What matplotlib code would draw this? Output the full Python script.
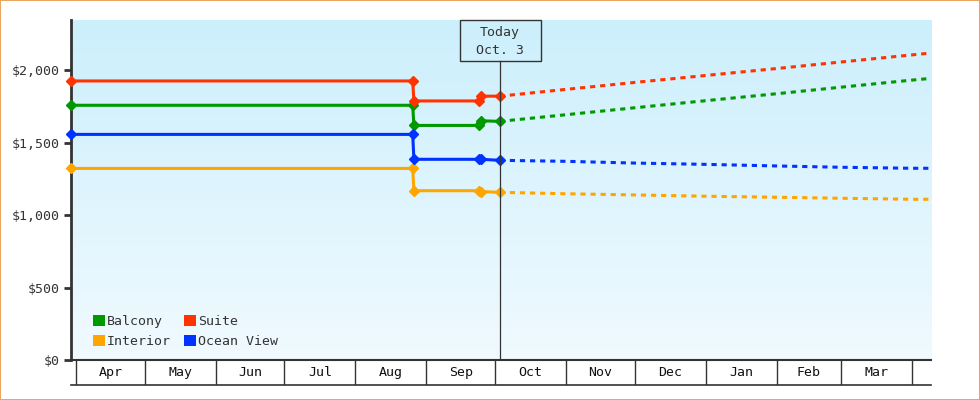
import matplotlib

matplotlib.use("Agg")
import matplotlib.pyplot as plt
import matplotlib.dates as mdates
import numpy as np
import pandas as pd
from matplotlib.patches import Rectangle, Patch
from matplotlib.ticker import FuncFormatter

# observed prices (step change late August, small moves late September)
hist_dates = ["2024-03-29 19:00", "2024-08-26 00:00", "2024-08-26 12:00",
              "2024-09-24 00:00", "2024-09-25 00:00", "2024-10-03 00:00"]
suite_hist = [1927, 1927, 1789, 1789, 1822, 1822]
balcony_hist = [1759, 1759, 1620, 1620, 1652, 1648]
ocean_hist = [1558, 1558, 1386, 1386, 1386, 1379]
interior_hist = [1323, 1323, 1169, 1169, 1163, 1158]

# forecast from today on
fc_dates = ["2024-10-03 00:00", "2024-11-01 00:00", "2024-12-01 00:00",
            "2025-01-01 00:00", "2025-02-01 00:00", "2025-03-01 00:00",
            "2025-04-01 00:00", "2025-04-09 07:00"]
suite_fc = [1822, 1869, 1917, 1965, 2013, 2058, 2107, 2120]
balcony_fc = [1648, 1694, 1742, 1791, 1839, 1884, 1933, 1945]
ocean_fc = [1379, 1372, 1360, 1351, 1340, 1331, 1324, 1324]
interior_fc = [1158, 1148, 1140, 1131, 1124, 1117, 1110, 1110]

today = "2024-10-03"
month_starts = pd.date_range("2024-04-01", "2025-04-01", freq="MS")
month_labels = ["Apr", "May", "Jun", "Jul", "Aug", "Sep",
                "Oct", "Nov", "Dec", "Jan", "Feb", "Mar"]
y_ticks = [0, 500, 1000, 1500, 2000]

FONT = "DejaVu Sans Mono"
DARK = "#333333"
plt.rcParams["font.family"] = FONT

fig = plt.figure(figsize=(9.8, 4.0), dpi=100)
ax = fig.add_axes([71 / 980, 40 / 400, 860 / 980, 340 / 400])

x0 = pd.Timestamp("2024-03-29 19:00")
x1 = pd.Timestamp("2025-04-09 07:00")
ax.set_xlim(x0, x1)
ax.set_ylim(0, 2348)

# background gradient
grad = np.linspace(0, 1, 256).reshape(-1, 1)
top = np.array([204, 239, 252]) / 255
bot = np.array([240, 250, 255]) / 255
img = top[None, None, :] * (1 - grad[:, :, None]) + bot[None, None, :] * grad[:, :, None]
ax.imshow(img, extent=[0, 1, 0, 1], transform=ax.transAxes,
          aspect="auto", zorder=0)

series = [
    ("Balcony", "#009900", balcony_hist, balcony_fc),
    ("Interior", "#ffa500", interior_hist, interior_fc),
    ("Suite", "#ff3300", suite_hist, suite_fc),
    ("Ocean View", "#0033ff", ocean_hist, ocean_fc),
]
hd = pd.to_datetime(hist_dates, format="%Y-%m-%d %H:%M")
fd = pd.to_datetime(fc_dates, format="%Y-%m-%d %H:%M")
handles = []
for name, color, hist, fc in series:
    ax.plot(hd, hist, color=color, lw=2.2, marker="D", ms=5.5,
            zorder=4, clip_on=False)
    ax.plot(fd, fc, color=color, lw=2.2, ls=(0, (1.7, 1.6)), zorder=3)
    handles.append(Patch(facecolor=color, edgecolor="none", label=name))

# today marker
t = mdates.date2num(pd.Timestamp(today))
box_top = 1.0
box_bot = (360 - 60.7) / 340
ax.plot([t, t], [0, box_bot], color=DARK, lw=0.9,
        transform=ax.get_xaxis_transform(), zorder=5)
ax.add_patch(Rectangle((t - 17.5, box_bot), 35.4, box_top - box_bot,
                       transform=ax.get_xaxis_transform(), fill=False,
                       edgecolor=DARK, lw=1, zorder=5, clip_on=False))
ax.text(t, (360 - 32.5) / 340, "Today", transform=ax.get_xaxis_transform(),
        ha="center", va="center", fontsize=9.5, color=DARK, zorder=6)
ax.text(t, (360 - 50.5) / 340, "Oct. 3", transform=ax.get_xaxis_transform(),
        ha="center", va="center", fontsize=9.5, color=DARK, zorder=6)

# axes styling
for s in ["top", "right"]:
    ax.spines[s].set_visible(False)
ax.spines["left"].set_linewidth(2)
ax.spines["left"].set_color(DARK)
ax.spines["bottom"].set_linewidth(1.5)
ax.spines["bottom"].set_color(DARK)
ax.set_yticks(y_ticks)
ax.yaxis.set_major_formatter(FuncFormatter(lambda v, p: "${:,.0f}".format(v)))
ax.tick_params(axis="y", direction="out", length=5, width=2, color=DARK,
               labelsize=9.5, labelcolor=DARK, pad=3)
ax.set_xticks([])

leg = ax.legend(handles=handles, ncol=2, loc="lower left",
                bbox_to_anchor=((93 - 71) / 860, (360 - 348) / 340),
                frameon=False, fontsize=9.5, handlelength=0.9,
                handleheight=0.9, handletextpad=0.15, columnspacing=1.0,
                labelspacing=0.55, borderpad=0, borderaxespad=0)
for txt in leg.get_texts():
    txt.set_color(DARK)

# month band under the axis
band = fig.add_axes([71 / 980, 15 / 400, 860 / 980, 25 / 400], sharex=ax)
band.set_facecolor("none")
band.set_ylim(0, 1)
for s in ["top", "right", "left"]:
    band.spines[s].set_visible(False)
band.spines["bottom"].set_color(DARK)
band.spines["bottom"].set_linewidth(1.2)
band.vlines(month_starts, 0, 1, color=DARK, lw=1)
for i, lab in enumerate(month_labels):
    mid = month_starts[i] + (month_starts[i + 1] - month_starts[i]) / 2
    band.text(mid, 0.5, lab, ha="center", va="center", fontsize=9.5,
              color="#111111")
band.set_xticks([])
band.set_yticks([])
band.set_xlim(x0, x1)

fig.add_artist(Rectangle((0, 0), 1, 1, transform=fig.transFigure, fill=False,
                         edgecolor="#e8a65e", lw=1.5))

fig.savefig("out.png", dpi=100)
